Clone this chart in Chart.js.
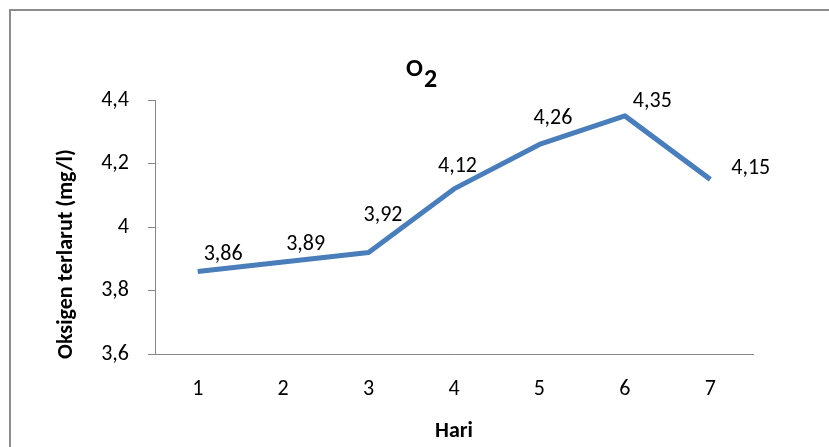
<!DOCTYPE html>
<html>
<head>
<meta charset="utf-8">
<script src="https://cdn.jsdelivr.net/npm/chart.js@4/dist/chart.umd.min.js"></script>
<style>
  html, body { margin: 0; padding: 0; background: #ffffff; }
  #wrap { width: 829px; height: 447px; position: relative; }
</style>
</head>
<body>
<div id="wrap"><canvas id="c" width="829" height="447"></canvas></div>
<script>
// Dissolved oxygen per day
const days = ["1", "2", "3", "4", "5", "6", "7"];
const oxygen = [3.86, 3.89, 3.92, 4.12, 4.26, 4.35, 4.15];
const yTickValues = [3.6, 3.8, 4.0, 4.2, 4.4];

const chartTitle = "O";
const chartTitleSub = "2";
const xTitle = "Hari";
const yTitle = "Oksigen terlarut (mg/l)";

// Placement of each value label relative to its point (left edge, vertical centre)
const labelOffsets = [[6, -17], [3, -17], [-5, -37], [-16, -22], [-6, -26], [8, -14], [21, -11]];

const FONT = "Carlito, Calibri, Lato, sans-serif";
const comma = v => (Math.round(v * 100) / 100).toString().replace('.', ',');

const decorations = {
  id: 'decorations',
  afterDraw(chart) {
    const ctx = chart.ctx;
    const area = chart.chartArea;
    ctx.save();

    // outer frame
    ctx.strokeStyle = '#8c8c8c';
    ctx.lineWidth = 2;
    ctx.strokeRect(10, 10, 840, 460);

    ctx.fillStyle = '#000000';

    // title with subscript
    ctx.textBaseline = 'alphabetic';
    ctx.textAlign = 'left';
    ctx.font = 'bold 25px ' + FONT;
    const wO = ctx.measureText(chartTitle).width;
    ctx.fillText(chartTitle, 406, 76);
    ctx.font = 'bold 26px ' + FONT;
    ctx.fillText(chartTitleSub, 406 + wO + 1, 87);

    // axis titles
    ctx.font = 'bold 22px ' + FONT;
    ctx.textAlign = 'center';
    ctx.textBaseline = 'middle';
    ctx.fillText(xTitle, (area.left + area.right) / 2, 431);
    ctx.save();
    ctx.translate(66, 254);
    ctx.rotate(-Math.PI / 2);
    ctx.fillText(yTitle, 0, 0);
    ctx.restore();

    // value labels
    const meta = chart.getDatasetMeta(0);
    ctx.font = '22px ' + FONT;
    ctx.textAlign = 'left';
    ctx.textBaseline = 'middle';
    meta.data.forEach((pt, i) => {
      const off = labelOffsets[i];
      ctx.fillText(comma(oxygen[i]), pt.x + off[0], pt.y + off[1]);
    });

    ctx.restore();
  }
};

new Chart(document.getElementById('c'), {
  type: 'line',
  data: {
    labels: days,
    datasets: [{
      data: oxygen,
      borderColor: '#4A7EBB',
      borderWidth: 5,
      pointRadius: 0,
      pointHoverRadius: 0,
      tension: 0,
      borderCapStyle: 'butt',
      borderJoinStyle: 'round',
      fill: false
    }]
  },
  options: {
    responsive: false,
    animation: false,
    events: [],
    layout: { padding: { left: 0, top: 100, right: 76, bottom: 0 } },
    plugins: {
      legend: { display: false },
      title: { display: false },
      tooltip: { enabled: false }
    },
    scales: {
      x: {
        offset: true,
        grid: { display: false, drawTicks: false },
        border: { display: true, color: '#868686', width: 1 },
        ticks: { color: '#000000', padding: 22, font: { family: FONT, size: 22 } },
        afterFit(scale) { scale.height = 93; }
      },
      y: {
        min: 3.6,
        max: 4.4,
        grid: { drawOnChartArea: false, drawTicks: true, tickLength: 7, color: '#868686' },
        border: { display: true, color: '#868686', width: 1 },
        afterBuildTicks(scale) { scale.ticks = yTickValues.map(v => ({ value: v })); },
        ticks: {
          color: '#000000',
          padding: 19,
          font: { family: FONT, size: 22 },
          callback: v => comma(v)
        },
        afterFit(scale) { scale.width = 155; }
      }
    }
  },
  plugins: [decorations]
});
</script>
</body>
</html>
